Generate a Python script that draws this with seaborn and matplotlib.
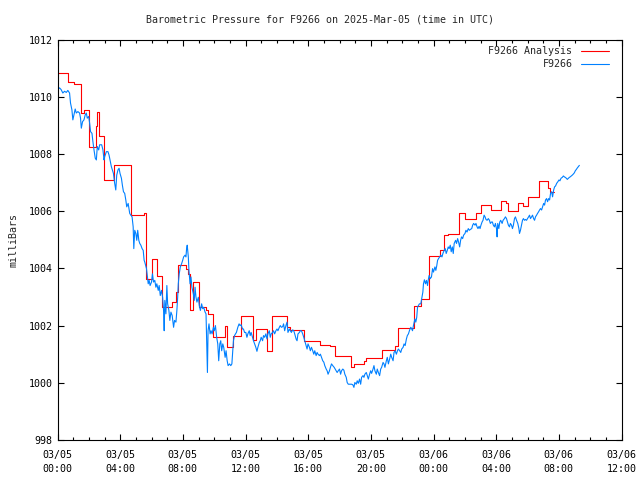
import matplotlib
matplotlib.use("Agg")
import matplotlib.pyplot as plt
import matplotlib.dates as mdates
import seaborn as sns
import pandas as pd
import numpy as np

# ---------------- data ----------------
start_time = "2025-03-05 00:00"
title_text = "Barometric Pressure for F9266 on 2025-Mar-05 (time in UTC)"
ylabel_text = "milliBars"
analysis_label = "F9266 Analysis"
obs_label = "F9266"

# Analysis (step series): hours since start, pressure (mb)
analysis_hours = [0.0, 0.66, 1.04, 1.47, 1.69, 2.0, 2.45, 2.52, 2.62, 2.97, 3.61,
                  4.7, 5.55, 5.68, 6.04, 6.32, 6.64, 7.28, 7.54, 7.71, 8.18, 8.3,
                  8.46, 8.67, 9.05, 9.5, 9.61, 9.95, 10.7, 10.85, 11.2, 11.7, 12.51,
                  12.68, 13.37, 13.69, 14.65, 14.86, 15.72, 16.78, 17.4, 17.74, 18.75,
                  18.9, 19.56, 19.71, 20.69, 21.55, 21.72, 22.76, 23.22, 23.74, 24.39,
                  24.68, 24.9, 25.65, 26.01, 26.71, 27.03, 27.67, 28.31, 28.6, 28.75,
                  29.37, 29.7, 30.04, 30.72, 31.3, 31.45, 31.71]
analysis_mb = [1010.83, 1010.52, 1010.46, 1009.43, 1009.54, 1008.23, 1008.96, 1009.48,
               1008.63, 1007.09, 1007.6, 1005.86, 1005.92, 1003.64, 1004.34, 1003.75,
               1002.64, 1002.82, 1003.17, 1004.1, 1003.99, 1003.82, 1002.53, 1003.52,
               1002.64, 1002.53, 1002.42, 1001.59, 1002.0, 1001.24, 1001.65, 1002.35,
               1001.5, 1001.88, 1001.1, 1002.32, 1001.96, 1001.85, 1001.47, 1001.33,
               1001.27, 1000.95, 1000.54, 1000.66, 1000.77, 1000.87, 1001.15, 1001.3,
               1001.92, 1002.7, 1002.94, 1004.42, 1004.63, 1005.15, 1005.21, 1005.94,
               1005.71, 1005.94, 1006.21, 1006.04, 1006.36, 1006.29, 1006.0, 1006.3,
               1006.18, 1006.5, 1007.06, 1006.8, 1006.68, 1006.68]

# Observations: hours since start, pressure (mb)
obs_hours = [
    0.02, 0.13, 0.23, 0.34, 0.45, 0.56, 0.66, 0.77, 0.83, 0.92, 0.98, 1.05, 1.13, 1.20,
    1.30, 1.41, 1.47, 1.52, 1.60, 1.69, 1.77, 1.84, 1.90, 1.99, 2.05, 2.11, 2.20, 2.26,
    2.33, 2.41, 2.48, 2.54, 2.63, 2.69, 2.82, 2.90, 2.97, 3.01, 3.12, 3.22, 3.29, 3.35,
    3.44, 3.50, 3.57, 3.65, 3.72, 3.78, 3.86, 3.93, 3.99, 4.08, 4.14, 4.21, 4.29, 4.36,
    4.42, 4.51, 4.61, 4.68, 4.76, 4.83, 4.87, 4.93, 5.00, 5.06, 5.12, 5.19, 5.25, 5.32,
    5.40, 5.47, 5.53, 5.57, 5.68, 5.74, 5.79, 5.85, 5.91, 6.00, 6.06, 6.13, 6.21, 6.28,
    6.34, 6.43, 6.49, 6.56, 6.64, 6.71, 6.77, 6.81, 6.85, 6.92, 6.98, 7.03, 7.11, 7.17,
    7.24, 7.32, 7.41, 7.47, 7.56, 7.62, 7.67, 7.71, 7.77, 7.84, 7.92, 7.99, 8.05, 8.14,
    8.20, 8.24, 8.28, 8.35, 8.39, 8.46, 8.52, 8.58, 8.67, 8.73, 8.78, 8.84, 8.90, 8.99,
    9.05, 9.12, 9.20, 9.27, 9.33, 9.42, 9.48, 9.52, 9.57, 9.61, 9.67, 9.74, 9.80, 9.87,
    9.95, 10.01, 10.08, 10.16, 10.23, 10.29, 10.36, 10.42, 10.48, 10.55, 10.61, 10.70,
    10.76, 10.83, 10.89, 10.98, 11.06, 11.13, 11.17, 11.23, 11.30, 11.36,
    11.42, 11.51, 11.59, 11.65, 11.72, 11.81, 11.87, 11.94, 12.02, 12.09, 12.15, 12.24,
    12.30, 12.36, 12.45, 12.51, 12.58, 12.66, 12.73, 12.79, 12.88, 12.94, 13.00, 13.09,
    13.15, 13.22, 13.30, 13.37, 13.43, 13.52, 13.58, 13.64, 13.73, 13.79, 13.86, 13.94,
    14.01, 14.07, 14.16, 14.22, 14.29, 14.37, 14.43, 14.50, 14.58, 14.65, 14.71, 14.80,
    14.86, 14.93, 15.01, 15.08, 15.14, 15.23, 15.29, 15.35, 15.44, 15.50, 15.57, 15.65,
    15.72, 15.78, 15.87, 15.93, 15.99, 16.08, 16.14, 16.21, 16.29, 16.36, 16.42, 16.51,
    16.57, 16.63, 16.72, 16.78, 16.85, 16.93, 17.00, 17.06, 17.15, 17.21, 17.27, 17.36,
    17.42, 17.49, 17.57, 17.66,
    17.79, 17.85, 17.92, 18.00, 18.07, 18.13, 18.21, 18.28, 18.34, 18.43, 18.49, 18.56,
    18.64, 18.71, 18.77, 18.85, 18.92, 18.98, 19.07, 19.13, 19.20, 19.28, 19.35, 19.41,
    19.50, 19.56, 19.62, 19.71, 19.77, 19.84, 19.92, 19.99, 20.05, 20.14, 20.20, 20.26,
    20.35, 20.41, 20.48, 20.56, 20.63, 20.69, 20.78, 20.84, 20.90, 20.99, 21.05, 21.12,
    21.20, 21.27, 21.33, 21.42, 21.48, 21.55, 21.63, 21.70, 21.76, 21.84, 21.91, 21.97,
    22.06, 22.12, 22.19, 22.27, 22.33, 22.40, 22.48, 22.55, 22.61,
    22.66, 22.72, 22.81, 22.87, 22.93, 22.98, 23.04, 23.10, 23.19, 23.25, 23.32, 23.36,
    23.42, 23.49, 23.55, 23.62, 23.66, 23.72, 23.79, 23.87, 23.94, 24.00, 24.09, 24.15,
    24.21, 24.26, 24.32, 24.39, 24.47, 24.54, 24.60, 24.68, 24.75, 24.81, 24.88, 24.94,
    25.00, 25.07, 25.13, 25.20, 25.26, 25.32, 25.41, 25.47, 25.54, 25.60, 25.67, 25.73,
    25.79, 25.86, 25.92, 26.01, 26.07, 26.14, 26.22, 26.29, 26.35, 26.44, 26.50, 26.56,
    26.65, 26.71, 26.78, 26.84, 26.91, 26.97, 27.03, 27.10, 27.16, 27.23, 27.29, 27.35,
    27.42, 27.50, 27.57, 27.63, 27.70, 27.76, 27.82, 27.89, 27.95, 28.02, 28.06, 28.10,
    28.17, 28.23, 28.29,
    28.38, 28.44, 28.53, 28.59, 28.66, 28.72, 28.78, 28.85, 28.91, 28.98, 29.04, 29.10,
    29.17, 29.23, 29.30, 29.38, 29.45, 29.49, 29.55, 29.62, 29.68, 29.74, 29.81, 29.87,
    29.94, 30.00, 30.07, 30.13, 30.19, 30.26, 30.32, 30.39, 30.45, 30.51, 30.58, 30.64,
    30.71, 30.77, 30.83, 30.90, 30.96, 31.03, 31.09, 31.15, 31.22, 31.28, 31.35, 31.41,
    31.47, 31.54, 31.60, 31.67, 31.73, 31.79, 31.86, 31.94, 32.01, 32.07, 32.14, 32.22,
    32.29, 32.35, 32.41, 32.48, 32.54, 32.61, 32.67, 32.73, 32.80, 32.86, 32.93, 32.99,
    33.05, 33.12, 33.18, 33.25, 33.31]
obs_mb = [
    1010.25, 1010.31, 1010.25, 1010.13, 1010.19, 1010.15, 1010.22, 1010.13, 1009.78, 1009.54,
    1009.19, 1009.37, 1009.57, 1009.43, 1009.48, 1009.43, 1009.25, 1008.90, 1009.13, 1009.19,
    1009.37, 1009.43, 1009.25, 1009.31, 1009.08, 1008.78, 1008.72, 1008.43, 1008.14, 1007.85,
    1007.79, 1008.26, 1008.14, 1008.32, 1008.32, 1008.14, 1007.79, 1007.90, 1008.08, 1008.08,
    1007.96, 1007.79, 1007.55, 1007.44, 1007.32, 1006.97, 1006.74, 1007.26, 1007.44, 1007.50,
    1007.32, 1007.15, 1006.91, 1006.68, 1006.62, 1006.39, 1006.15, 1006.27, 1005.92, 1005.86,
    1005.80, 1005.45, 1004.69, 1005.33, 1005.22, 1004.98, 1005.33, 1004.98, 1004.87, 1004.81,
    1004.69, 1004.63, 1004.28, 1004.22, 1003.99, 1003.70, 1003.46, 1003.58, 1003.40, 1003.52,
    1003.81, 1003.52, 1003.58, 1003.34, 1003.46, 1003.23, 1003.40, 1003.05, 1003.23, 1002.99,
    1002.53, 1001.82, 1002.88, 1002.41, 1003.40, 1002.76, 1002.53, 1002.18, 1002.47, 1002.35,
    1001.94, 1002.18, 1002.12, 1002.53, 1002.99, 1003.46, 1003.81, 1004.05, 1004.16, 1004.28,
    1004.40, 1004.46, 1004.40, 1004.69, 1004.81, 1004.40, 1003.93, 1003.46, 1003.70, 1003.34,
    1003.11, 1002.88, 1003.34, 1002.99, 1002.82, 1002.99, 1002.70, 1002.53, 1002.76, 1002.59,
    1002.64, 1002.47, 1002.41, 1001.47, 1000.36, 1001.82, 1002.06, 1001.71, 1001.82, 1001.71,
    1001.94, 1001.82, 1002.00, 1001.59, 1001.36, 1000.77, 1001.36, 1001.47, 1001.12, 1001.36,
    1001.24, 1000.89, 1001.12, 1000.77, 1000.60, 1000.66, 1000.60, 1000.66, 1001.00, 1001.47,
    1001.65, 1001.71,
    1001.76, 1001.94, 1002.06, 1002.00, 1002.03, 1001.88, 1001.88, 1001.76, 1001.76, 1001.59,
    1001.71, 1001.82, 1001.65, 1001.76, 1001.59, 1001.47, 1001.36, 1001.24, 1001.10, 1001.24,
    1001.41, 1001.47, 1001.59, 1001.47, 1001.65, 1001.59, 1001.71, 1001.53, 1001.71, 1001.82,
    1001.59, 1001.71, 1001.76, 1001.82, 1001.71, 1001.82, 1001.88, 1001.82, 1001.94, 1002.00,
    1001.94, 1001.96, 1002.06, 1001.82, 1002.00, 1002.12, 1001.76, 1001.88, 1001.82, 1001.76,
    1001.85, 1001.82, 1001.71, 1001.53, 1001.47, 1001.71, 1001.76, 1001.82, 1001.82, 1001.71,
    1001.59, 1001.47, 1001.30, 1001.18, 1001.36, 1001.24, 1001.12, 1001.24, 1001.12, 1001.00,
    1001.12, 1000.95, 1001.06, 1001.00, 1000.95, 1001.00, 1000.89, 1000.77, 1000.72, 1000.60,
    1000.48, 1000.42, 1000.30, 1000.42, 1000.54, 1000.66, 1000.60, 1000.54,
    1000.42, 1000.36, 1000.42, 1000.48, 1000.30, 1000.42, 1000.48, 1000.44, 1000.30, 1000.19,
    1000.01, 999.95, 999.95, 999.95, 999.95, 999.93, 999.84, 1000.01, 999.95, 1000.07,
    999.98, 1000.13, 999.95, 1000.19, 1000.25, 1000.19, 1000.30, 1000.36, 1000.25, 1000.13,
    1000.30, 1000.42, 1000.33, 1000.48, 1000.60, 1000.42, 1000.30, 1000.48, 1000.36, 1000.25,
    1000.48, 1000.54, 1000.71, 1000.66, 1000.54, 1000.77, 1000.89, 1000.66, 1000.83, 1001.00,
    1000.89, 1000.77, 1001.06, 1001.12, 1001.00, 1001.12, 1001.18, 1001.12, 1001.06, 1001.18,
    1001.24, 1001.36, 1001.30, 1001.53, 1001.65, 1001.71, 1001.85, 1001.94, 1001.88,
    1001.82, 1002.00, 1002.23, 1002.12, 1002.29, 1002.64, 1002.70, 1002.76, 1002.76, 1002.94,
    1003.17, 1003.46, 1003.60, 1003.46, 1003.58, 1003.40, 1003.58, 1003.75, 1003.64, 1003.70,
    1003.99, 1003.87, 1004.05, 1003.93, 1004.10, 1004.28, 1004.34, 1004.40, 1004.46, 1004.40,
    1004.52, 1004.63, 1004.69, 1004.52, 1004.63, 1004.75, 1004.69, 1004.81, 1004.58, 1004.75,
    1004.52, 1004.87, 1004.98, 1004.87, 1005.04, 1004.92, 1004.75, 1004.98, 1005.10, 1005.04,
    1005.16, 1005.22, 1005.33, 1005.27, 1005.39, 1005.33, 1005.36, 1005.39, 1005.51, 1005.57,
    1005.51, 1005.57, 1005.45, 1005.39, 1005.47, 1005.39, 1005.51, 1005.62, 1005.68, 1005.86,
    1005.80, 1005.71, 1005.68, 1005.74, 1005.68, 1005.57, 1005.62, 1005.62, 1005.51, 1005.45,
    1005.57, 1005.39, 1005.10, 1005.57, 1005.39, 1005.62, 1005.68,
    1005.57, 1005.68, 1005.74, 1005.80, 1005.74, 1005.63, 1005.51, 1005.45, 1005.57, 1005.51,
    1005.39, 1005.51, 1005.74, 1005.80, 1005.68, 1005.57, 1005.39, 1005.22, 1005.33, 1005.51,
    1005.68, 1005.74, 1005.68, 1005.71, 1005.68, 1005.74, 1005.80, 1005.86, 1005.74, 1005.80,
    1005.86, 1005.74, 1005.68, 1005.80, 1005.86, 1005.92, 1005.98, 1006.04, 1006.09, 1006.04,
    1006.15, 1006.27, 1006.21, 1006.39, 1006.44, 1006.33, 1006.44, 1006.39, 1006.62, 1006.68,
    1006.50, 1006.74, 1006.85, 1006.88, 1006.97, 1007.03, 1007.09, 1007.06, 1007.15, 1007.18,
    1007.23, 1007.20, 1007.18, 1007.15, 1007.11, 1007.15, 1007.18, 1007.20, 1007.23, 1007.26,
    1007.30, 1007.34, 1007.41, 1007.46, 1007.51, 1007.56, 1007.60]

y_min, y_max, y_step = 998, 1012, 2
x_span_hours = 36

# ---------------- build frames ----------------
t0 = pd.Timestamp(start_time)
df_an = pd.DataFrame({"time": t0 + pd.to_timedelta(analysis_hours, unit="h"),
                      "mb": analysis_mb})
df_obs = pd.DataFrame({"time": t0 + pd.to_timedelta(obs_hours, unit="h"),
                       "mb": obs_mb})

# ---------------- style ----------------
sns.set_style("ticks")
plt.rcParams["font.family"] = ["DejaVu Sans Mono"]
FS = 7.2
plt.rcParams["font.size"] = FS

fig = plt.figure(figsize=(6.4, 4.8), dpi=100)
ax = fig.add_axes([57.5 / 640, 1 - 440 / 480, 564 / 640, 400.5 / 480])

sns.lineplot(data=df_an, x="time", y="mb", ax=ax, color="#ff0000", linewidth=0.8,
             drawstyle="steps-post", estimator=None, sort=False, label=analysis_label)
sns.lineplot(data=df_obs, x="time", y="mb", ax=ax, color="#0080ff", linewidth=0.8,
             estimator=None, sort=False, label=obs_label)

ax.set_xlim(t0, t0 + pd.Timedelta(hours=x_span_hours))
ax.set_ylim(y_min, y_max)
ax.set_yticks(np.arange(y_min, y_max + 1, y_step))
ax.xaxis.set_major_locator(mdates.HourLocator(byhour=range(0, 24, 4)))
ax.xaxis.set_minor_locator(mdates.HourLocator())
ax.xaxis.set_major_formatter(mdates.DateFormatter("%m/%d\n%H:%M"))

ax.tick_params(axis="both", which="both", direction="in", top=True, right=True,
               colors="black", labelsize=FS, width=0.8)
ax.tick_params(axis="both", which="major", length=4.5, pad=3.5)
ax.tick_params(axis="x", which="minor", length=2.5)
ax.tick_params(axis="x", which="major", pad=7)
for lab in ax.get_xticklabels():
    lab.set_linespacing(1.5)

for s in ax.spines.values():
    s.set_visible(True)
    s.set_color("black")
    s.set_linewidth(0.8)

ax.set_xlabel("")
ax.set_ylabel(ylabel_text, fontsize=FS)
ax.yaxis.set_label_coords(-0.07, 0.5)

fig.text(0.5, 1 - 20 / 480, title_text, ha="center", va="center", fontsize=FS)

leg = ax.legend(loc="upper right", bbox_to_anchor=(1 - 6 / 564, 1.0), frameon=False,
                markerfirst=False, handlelength=2.8, handletextpad=0.8,
                borderaxespad=0.3, labelspacing=0.25, fontsize=FS)

ax.grid(False)
fig.savefig("out.png", dpi=100)
